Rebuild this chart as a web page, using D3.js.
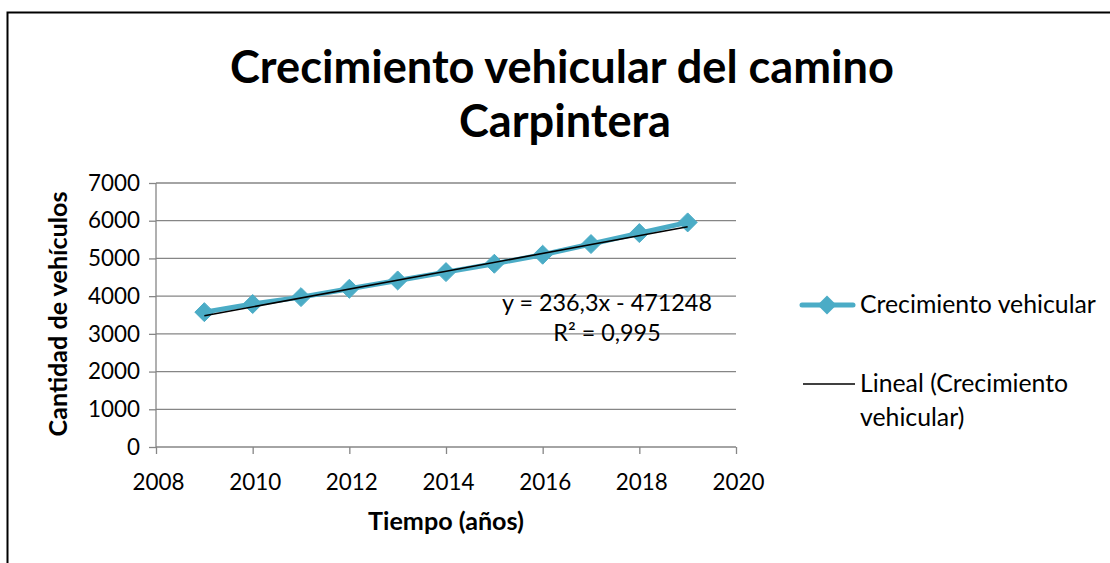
<!DOCTYPE html>
<html><head><meta charset="utf-8">
<script src="https://cdn.jsdelivr.net/npm/d3@7"></script>
<style>html,body{margin:0;padding:0;background:#fff;overflow:hidden}</style>
</head><body>
<svg id="c" width="1110" height="563"></svg>
<script>
const years = [2009, 2010, 2011, 2012, 2013, 2014, 2015, 2016, 2017, 2018, 2019];
const vehicles = [3576, 3791, 3974, 4196, 4416, 4637, 4859, 5098, 5381, 5672, 5955];
const trendSlope = [236.3];
const trendIntercept = [-471248];
const xTicks = [2008, 2010, 2012, 2014, 2016, 2018, 2020];
const yTicks = [0, 1000, 2000, 3000, 4000, 5000, 6000, 7000];
const titleLines = ["Crecimiento vehicular del camino", "Carpintera"];
const seriesName = "Crecimiento vehicular";
const trendNameLines = ["Lineal (Crecimiento", "vehicular)"];
const eqLines = ["y = 236,3x - 471248", "R² = 0,995"];

const FONT = "Lato, 'Noto Sans', sans-serif";
const svg = d3.select("#c");
const W = 1110, H = 563;
svg.append("rect").attr("width", W).attr("height", H).attr("fill", "#fff");
svg.append("rect").attr("x", 7.5).attr("y", 12.5).attr("width", 1200).attr("height", 700)
  .attr("fill", "none").attr("stroke", "#000").attr("stroke-width", 2);

function fit(sel, target) {
  const n = sel.node();
  const base = parseFloat(sel.attr("font-size"));
  const w = n.getComputedTextLength();
  sel.attr("font-size", base * target / w);
  return base * target / w;
}

const x = d3.scaleLinear().domain([2008, 2020]).range([156, 736]);
const y = d3.scaleLinear().domain([0, 7000]).range([447, 183]);
const GRID = "#868686";

// gridlines
svg.append("g").selectAll("line").data(yTicks.filter(d => d > 0)).join("line")
  .attr("x1", x(2008)).attr("x2", x(2020))
  .attr("y1", d => y(d)).attr("y2", d => y(d))
  .attr("stroke", GRID).attr("stroke-width", 1.3);

// measure tick font
const probe = svg.append("text").attr("font-family", FONT).attr("font-size", 20).text("7000");
const tickSize = fit(probe, 52);
probe.remove();

const yAxis = svg.append("g").attr("transform", `translate(${x(2008)},0)`)
  .call(d3.axisLeft(y).tickValues(yTicks).tickFormat(d3.format("d")).tickSize(7).tickPadding(9));
const xAxis = svg.append("g").attr("transform", `translate(0,${y(0)})`)
  .call(d3.axisBottom(x).tickValues(xTicks).tickFormat(d3.format("d")).tickSize(7).tickPadding(20));
[yAxis, xAxis].forEach(a => {
  a.select(".domain").attr("stroke", GRID).attr("stroke-width", 1.3);
  a.selectAll(".tick line").attr("stroke", GRID).attr("stroke-width", 1.3);
  a.selectAll(".tick text").attr("fill", "#000").attr("font-family", FONT).attr("font-size", tickSize);
});
yAxis.select(".domain").attr("d", `M0,${y(0)}V${y(7000)}`);
xAxis.select(".domain").attr("d", `M${x(2008)},0H${x(2020)}`);
xAxis.selectAll(".tick text").attr("dx", 2);

// series
const COLOR = "#4BACC6";
const pts = years.map((yr, i) => [yr, vehicles[i]]);
svg.append("path").datum(pts)
  .attr("d", d3.line().x(d => x(d[0])).y(d => y(d[1])))
  .attr("fill", "none").attr("stroke", COLOR).attr("stroke-width", 5).attr("stroke-linejoin", "round");
const diamond = d3.symbol().type(d3.symbolDiamond2).size(230);
svg.append("g").selectAll("path").data(pts).join("path")
  .attr("transform", d => `translate(${x(d[0])},${y(d[1])})`)
  .attr("d", diamond).attr("fill", COLOR).attr("stroke", COLOR).attr("stroke-width", 1);

// trend line
const tx = d3.extent(years);
svg.append("line")
  .attr("x1", x(tx[0])).attr("y1", y(trendSlope[0] * tx[0] + trendIntercept[0]))
  .attr("x2", x(tx[1])).attr("y2", y(trendSlope[0] * tx[1] + trendIntercept[0]))
  .attr("stroke", "#000").attr("stroke-width", 1.6);

// equation
const eq = svg.append("g").attr("font-family", FONT).attr("text-anchor", "middle");
const eq1 = eq.append("text").attr("x", 607).attr("y", 311).attr("font-size", 20).text(eqLines[0]);
const eqSize = fit(eq1, 210);
eq.append("text").attr("x", 607).attr("y", 341).attr("font-size", eqSize).text(eqLines[1]);

// title
const t1 = svg.append("text").attr("x", 562).attr("y", 83).attr("text-anchor", "middle")
  .attr("font-family", FONT).attr("font-weight", 700).attr("font-size", 40).text(titleLines[0]);
const tSize = fit(t1, 664);
svg.append("text").attr("x", 565).attr("y", 137).attr("text-anchor", "middle")
  .attr("font-family", FONT).attr("font-weight", 700).attr("font-size", tSize).text(titleLines[1]);

// axis titles
const yt = svg.append("text").attr("transform", "translate(67,314) rotate(-90)").attr("text-anchor", "middle")
  .attr("font-family", FONT).attr("font-weight", 700).attr("font-size", 20).text("Cantidad de vehículos");
fit(yt, 245);
const xt = svg.append("text").attr("x", 446).attr("y", 530).attr("text-anchor", "middle")
  .attr("font-family", FONT).attr("font-weight", 700).attr("font-size", 20).text("Tiempo (años)");
fit(xt, 156);

// legend
const lg = svg.append("g").attr("font-family", FONT);
lg.append("line").attr("x1", 802).attr("x2", 853).attr("y1", 305).attr("y2", 305)
  .attr("stroke", COLOR).attr("stroke-width", 5).attr("stroke-linecap", "round");
lg.append("path").attr("transform", "translate(827,305)").attr("d", diamond).attr("fill", COLOR);
const l1 = lg.append("text").attr("x", 860).attr("y", 313).attr("font-size", 20).text(seriesName);
const lSize = fit(l1, 236);
lg.append("line").attr("x1", 803).attr("x2", 855).attr("y1", 384).attr("y2", 384)
  .attr("stroke", "#000").attr("stroke-width", 1.6);
lg.append("text").attr("x", 860).attr("y", 392).attr("font-size", lSize).text(trendNameLines[0]);
lg.append("text").attr("x", 860).attr("y", 426).attr("font-size", lSize).text(trendNameLines[1]);
</script>
</body></html>
